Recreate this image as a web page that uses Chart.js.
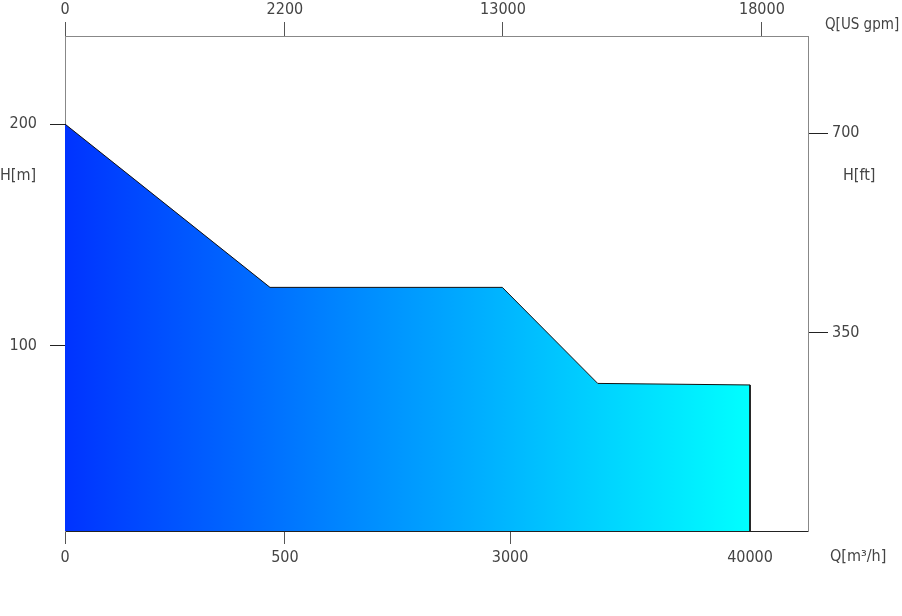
<!DOCTYPE html>
<html>
<head>
<meta charset="utf-8">
<script src="https://cdn.jsdelivr.net/npm/chart.js@4.4.1/dist/chart.umd.min.js"></script>
<style>
    html, body { margin: 0; padding: 0; background: #fff; }
    canvas { display: block; }
</style>
</head>
<body>
<canvas id="grafico" width="902" height="616"></canvas>
<script>
// eixo inferior Q [m3/h] e eixo superior Q [US gpm]
const ticksQm3h = [0, 500, 3000, 40000];
const ticksQgpm = [0, 2200, 13000, 18000];
// eixos verticais
const ticksHm = [100, 200];
const ticksHft = [350, 700];

// curva de operacao (Q em m3/h, H em m)
const curvaQ = [0, 466, 2914, 16517, 40000, 40000];
const curvaH = [200, 126.2, 126.2, 82.8, 82.1, 16.1];

// limites dos eixos verticais
const limHm = [16.1, 239.8];
const limHft = [2.5, 870];

// eixo Q nao linear: posicao (0..1) de cada tick na largura do grafico
const escalas = {
    x: { valores: ticksQm3h, pos: [0, 0.296, 0.599, 0.922] },
    x2: { valores: ticksQgpm, pos: [0, 0.296, 0.5895, 0.938] }
};

function valorParaDecimal(v, e) {
    let i = 0;
    while (i < e.valores.length - 2 && v > e.valores[i + 1]) i++;
    return e.pos[i] + (v - e.valores[i]) / (e.valores[i + 1] - e.valores[i]) * (e.pos[i + 1] - e.pos[i]);
}

function decimalParaValor(d, e) {
    let i = 0;
    while (i < e.pos.length - 2 && d > e.pos[i + 1]) i++;
    return e.valores[i] + (d - e.pos[i]) / (e.pos[i + 1] - e.pos[i]) * (e.valores[i + 1] - e.valores[i]);
}

class EscalaQuebrada extends Chart.LinearScale {
    getPixelForValue(value) {
        return this.getPixelForDecimal(valorParaDecimal(value, escalas[this.id]));
    }
    getValueForPixel(pixel) {
        return decimalParaValor(this.getDecimalForPixel(pixel), escalas[this.id]);
    }
}
EscalaQuebrada.id = 'quebrada';
EscalaQuebrada.defaults = Chart.LinearScale.defaults;
Chart.register(EscalaQuebrada);

const fonte = {
    family: '"Liberation Sans Narrow", "DejaVu Sans Condensed", "Liberation Sans", sans-serif',
    size: 16
};
const corTexto = '#444';

const titulos = {
    id: 'titulos',
    afterDraw(chart) {
        const { ctx, chartArea } = chart;
        ctx.save();
        ctx.font = `${fonte.size}px ${fonte.family}`;
        ctx.fillStyle = corTexto;
        ctx.textBaseline = 'middle';
        ctx.textAlign = 'left';
        ctx.fillText('H[m]', 0, chartArea.top + 140);
        ctx.fillText('H[ft]', chartArea.right + 35, chartArea.top + 140);
        ctx.fillText('Q[m³/h]', chartArea.right + 22, chartArea.bottom + 26);
        ctx.font = `15px ${fonte.family}`;
        ctx.fillText('Q[US gpm]', chartArea.right + 17, chartArea.top - 11);
        ctx.restore();
    }
};

function tamanho(prop, valor) {
    return function (escala) { escala[prop] = valor; };
}

new Chart(document.getElementById('grafico'), {
    type: 'line',
    data: {
        datasets: [{
            data: curvaQ.map((q, i) => ({ x: q, y: curvaH[i] })),
            xAxisID: 'x',
            yAxisID: 'y',
            borderColor: '#111',
            borderWidth: 1,
            pointRadius: 0,
            tension: 0,
            fill: 'start',
            backgroundColor: function (context) {
                const chart = context.chart;
                if (!chart.chartArea) return '#0033ff';
                const x = chart.scales.x;
                const g = chart.ctx.createLinearGradient(x.getPixelForValue(0), 0, x.getPixelForValue(40000), 0);
                g.addColorStop(0, '#0033ff');
                g.addColorStop(1, '#00ffff');
                return g;
            }
        }]
    },
    options: {
        responsive: false,
        animation: false,
        layout: { padding: 0 },
        plugins: {
            legend: { display: false },
            tooltip: { enabled: false }
        },
        scales: {
            x: {
                type: 'quebrada',
                position: 'bottom',
                min: 0,
                max: 40000,
                afterBuildTicks: function (e) { e.ticks = ticksQm3h.map(v => ({ value: v })); },
                afterFit: tamanho('height', 85),
                grid: {
                    drawOnChartArea: false,
                    tickLength: 13,
                    tickColor: ctx => ctx.index === ticksQm3h.length - 1 ? 'rgba(0,0,0,0)' : '#555'
                },
                border: { color: '#222' },
                ticks: {
                    autoSkip: false,
                    maxRotation: 0,
                    padding: 4,
                    color: corTexto,
                    font: fonte,
                    callback: v => String(v)
                }
            },
            x2: {
                type: 'quebrada',
                position: 'top',
                min: 0,
                max: 18000,
                afterBuildTicks: function (e) { e.ticks = ticksQgpm.map(v => ({ value: v })); },
                afterFit: tamanho('height', 36),
                grid: { drawOnChartArea: false, tickLength: 14, tickColor: '#555' },
                border: { color: '#888' },
                ticks: {
                    autoSkip: false,
                    maxRotation: 0,
                    padding: 3,
                    color: corTexto,
                    font: fonte,
                    callback: v => String(v)
                }
            },
            y: {
                type: 'linear',
                position: 'left',
                min: limHm[0],
                max: limHm[1],
                afterBuildTicks: function (e) { e.ticks = ticksHm.map(v => ({ value: v })); },
                afterFit: tamanho('width', 65),
                grid: { drawOnChartArea: false, tickLength: 15, tickColor: '#222' },
                border: { color: '#888' },
                ticks: { padding: 13, color: corTexto, font: fonte, callback: v => String(v) }
            },
            y2: {
                type: 'linear',
                position: 'right',
                min: limHft[0],
                max: limHft[1],
                afterBuildTicks: function (e) { e.ticks = ticksHft.map(v => ({ value: v })); },
                afterFit: tamanho('width', 94),
                grid: { drawOnChartArea: false, tickLength: 20, tickColor: '#222' },
                border: { color: '#888' },
                ticks: { padding: 4, color: corTexto, font: fonte, callback: v => String(v) }
            }
        }
    },
    plugins: [titulos]
});
</script>
</body>
</html>
